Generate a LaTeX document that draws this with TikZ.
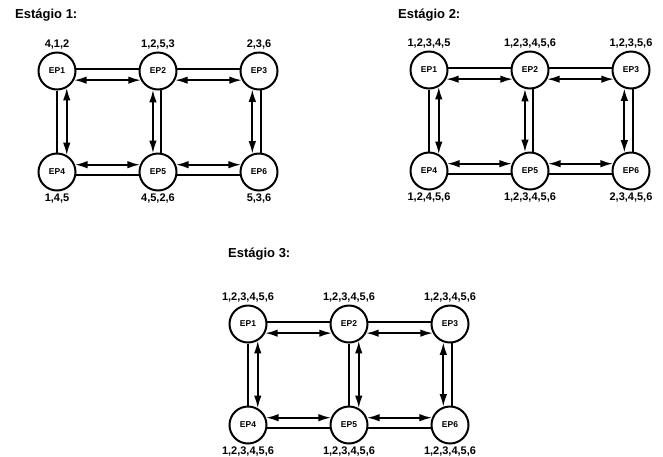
\documentclass[tikz,border=0pt]{standalone}
\usepackage{fontspec}
\setmainfont{Liberation Sans}
\usetikzlibrary{arrows.meta, positioning}

% um estagio: #1 prefixo, #2 posicao do EP1, #3-#8 conjuntos dos EPs
\newcommand{\estagio}[8]{%
    \node[ep, label={[lbl]above:{#3}}] (#1p1) at (#2) {EP1};
    \node[ep, right=of #1p1, label={[lbl]above:{#4}}] (#1p2) {EP2};
    \node[ep, right=of #1p2, label={[lbl]above:{#5}}] (#1p3) {EP3};
    \node[ep, below=of #1p1, label={[lbl]below:{#6}}] (#1p4) {EP4};
    \node[ep, below=of #1p2, label={[lbl]below:{#7}}] (#1p5) {EP5};
    \node[ep, below=of #1p3, label={[lbl]below:{#8}}] (#1p6) {EP6};
    % ligacoes
    \draw[link] (#1p1.5) -- (#1p2.175);
    \draw[link] (#1p2.5) -- (#1p3.175);
    \draw[link] (#1p4.-8) -- (#1p5.-172);
    \draw[link] (#1p5.-8) -- (#1p6.-172);
    \draw[link] (#1p1.-90) -- (#1p4.90);
    \draw[link] (#1p3.-85) -- (#1p6.85);
    % mensagens
    \draw[biarrow] (#1p1.-28) -- (#1p2.-152);
    \draw[biarrow] (#1p2.-28) -- (#1p3.-152);
    \draw[biarrow] (#1p4.22) -- (#1p5.158);
    \draw[biarrow] (#1p5.22) -- (#1p6.158);
    \draw[biarrow] (#1p1.-60) -- (#1p4.60);
    \draw[biarrow] (#1p3.-110) -- (#1p6.110);
}

\begin{document}
\begin{tikzpicture}[
        x=1pt, y=-1pt,
        node distance=62pt and 62pt,
        ep/.style={circle, draw, line width=2pt, minimum size=37pt, inner sep=0pt,
            font=\bfseries\fontsize{8.5}{9}\selectfont},
        lbl/.style={font=\bfseries\fontsize{11}{12}\selectfont, inner sep=1pt, label distance=1pt},
        titulo/.style={anchor=base west, inner sep=0pt, font=\bfseries\fontsize{13}{15}\selectfont},
        link/.style={line width=1.9pt},
        biarrow/.style={<->, >={Latex[length=12.5pt,width=7.5pt]}, line width=1.7pt}
    ]
    \useasboundingbox (0,0) rectangle (663,456);

    % Estagio 1
    \node[titulo] (t1) at (15,18) {Estágio 1:};
    \estagio{a}{57,71}{4,1,2}{1,2,5,3}{2,3,6}{1,4,5}{4,5,2,6}{5,3,6}
    \draw[link] (ap2.-80) -- (ap5.80);
    \draw[biarrow] (ap2.-105) -- (ap5.105);

    % Estagio 2
    \node[titulo] (t2) at (398,18) {Estágio 2:};
    \estagio{b}{429,70}{1,2,3,4,5}{1,2,3,4,5,6}{1,2,3,5,6}{1,2,4,5,6}{1,2,3,4,5,6}{2,3,4,5,6}
    \draw[link] (bp2.-80) -- (bp5.80);
    \draw[biarrow] (bp2.-105) -- (bp5.105);

    % Estagio 3
    \node[titulo] (t3) at (228,257) {Estágio 3:};
    \estagio{c}{248,324}{1,2,3,4,5,6}{1,2,3,4,5,6}{1,2,3,4,5,6}{1,2,3,4,5,6}{1,2,3,4,5,6}{1,2,3,4,5,6}
    \draw[link] (cp2.-90) -- (cp5.90);
    \draw[biarrow] (cp2.-60) -- (cp5.60);

\end{tikzpicture}
\end{document}
